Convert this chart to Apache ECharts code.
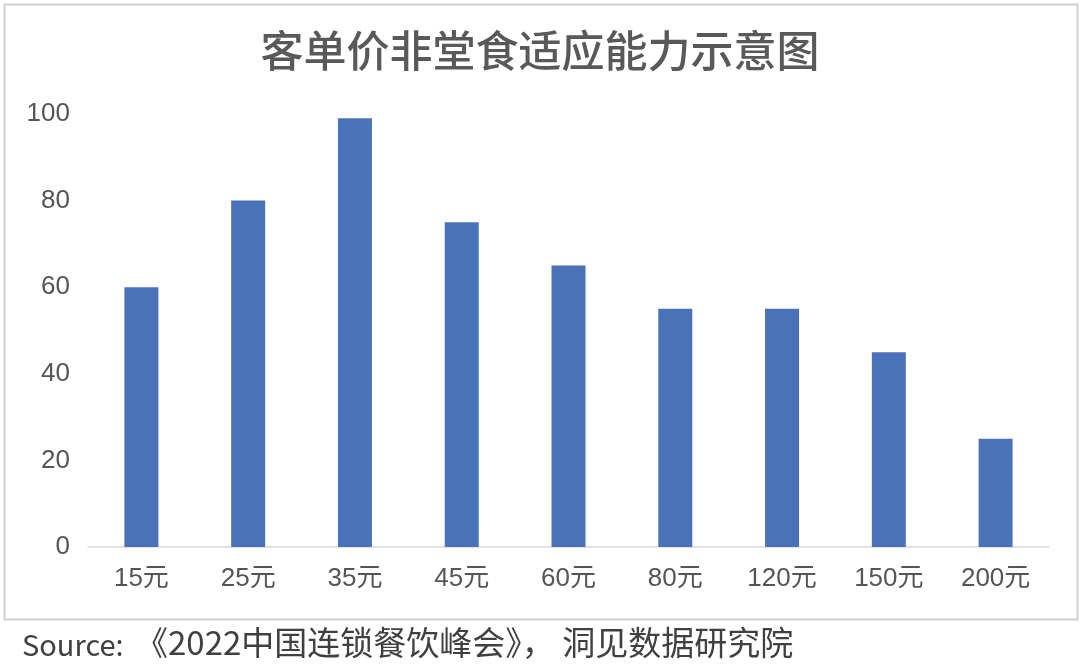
<!DOCTYPE html>
<html><head><meta charset="utf-8">
<script src="https://cdn.jsdelivr.net/npm/echarts@6/dist/echarts.min.js"></script>
<style>html,body{margin:0;padding:0;background:#fff}#c{width:1080px;height:665px}</style>
</head><body><div id="c"></div>
<script>
const categories = ['15元','25元','35元','45元','60元','80元','120元','150元','200元'];
const values = [60, 80, 99, 75, 65, 55, 55, 45, 25];
const yTicks = [0, 20, 40, 60, 80, 100];
const titleText = '客单价非堂食适应能力示意图';
const sourceLabel = 'Source:';
const sourceText = '《2022中国连锁餐饮峰会》， 洞见数据研究院';

const chart = echarts.init(document.getElementById('c'));
chart.setOption({
  backgroundColor: '#fff',
  animation: false,
  title: {
    text: titleText, left: 'center', top: 24,
    textStyle: {fontFamily: 'Noto Sans CJK SC', fontSize: 43, fontWeight: 500, color: '#595959'}
  },
  graphic: [
    {type: 'rect', shape: {x: 4.5, y: 4.5, width: 1073, height: 615}, style: {fill: 'none', stroke: '#d0d0d0', lineWidth: 2}, z: -1},
    {type: 'text', left: 22, top: 630, style: {text: sourceLabel, font: '29px "Noto Sans CJK SC"', fill: '#404040'}},
    {type: 'text', left: 135, top: 626, style: {text: sourceText, font: '33px "Noto Sans CJK SC"', fill: '#404040'}}
  ],
  grid: {left: 88, right: 31, top: 114, bottom: 118},
  xAxis: {
    type: 'category', data: categories,
    axisLine: {lineStyle: {color: '#d9d9d9', width: 1.5}},
    axisTick: {show: false},
    axisLabel: {fontFamily: 'Liberation Sans, Noto Sans CJK SC', fontSize: 26, color: '#555555', margin: 19}
  },
  yAxis: {
    type: 'value', min: yTicks[0], max: yTicks[yTicks.length-1], interval: 20,
    splitLine: {show: false},
    axisLine: {show: false}, axisTick: {show: false},
    axisLabel: {fontFamily: 'Liberation Sans', fontSize: 26, color: '#555555', margin: 18}
  },
  series: [{
    type: 'bar', data: values, barWidth: 34,
    itemStyle: {color: '#4a72b8'}
  }]
});
</script></body></html>
